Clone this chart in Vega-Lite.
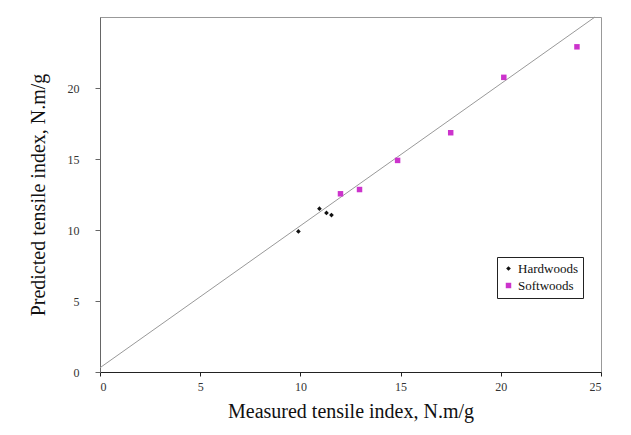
{
  "$schema": "https://vega.github.io/schema/vega-lite/v6.json",
  "autosize": "none",
  "width": 501,
  "height": 355,
  "padding": {"left": 100, "top": 17, "right": 30, "bottom": 63},
  "background": "white",
  "config": {
    "font": "Liberation Serif",
    "view": {"stroke": "#999999", "strokeWidth": 1},
    "axis": {"grid": false, "labelFont": "Liberation Serif", "titleFont": "Liberation Serif", "labelFontSize": 12, "labelColor": "#333333", "titleFontSize": 20, "titleFontWeight": "normal", "titleColor": "#111111", "tickColor": "#666666", "domainColor": "#666666"}
  },
  "datasets": {
    "points": [
      {"measured": 9.9, "predicted": 9.9, "group": "Hardwoods"},
      {"measured": 10.95, "predicted": 11.5, "group": "Hardwoods"},
      {"measured": 11.3, "predicted": 11.2, "group": "Hardwoods"},
      {"measured": 11.55, "predicted": 11.05, "group": "Hardwoods"},
      {"measured": 12.0, "predicted": 12.55, "group": "Softwoods"},
      {"measured": 12.95, "predicted": 12.85, "group": "Softwoods"},
      {"measured": 14.85, "predicted": 14.9, "group": "Softwoods"},
      {"measured": 17.5, "predicted": 16.85, "group": "Softwoods"},
      {"measured": 20.15, "predicted": 20.75, "group": "Softwoods"},
      {"measured": 23.8, "predicted": 22.9, "group": "Softwoods"}
    ],
    "fit": [
      {"measured": 0, "predicted": 0.3},
      {"measured": 24.7, "predicted": 25}
    ]
  },
  "layer": [
    {
      "data": {"name": "fit"},
      "mark": {"type": "line", "color": "#999999", "strokeWidth": 1},
      "encoding": {
        "x": {"field": "measured", "type": "quantitative", "scale": {"domain": [0, 25], "nice": false}},
        "y": {"field": "predicted", "type": "quantitative", "scale": {"domain": [0, 25], "nice": false}}
      }
    },
    {
      "data": {"name": "points"},
      "mark": {"type": "point", "filled": true, "opacity": 1},
      "encoding": {
        "x": {"field": "measured", "type": "quantitative", "scale": {"domain": [0, 25], "nice": false},
          "title": "Measured tensile index, N.m/g",
          "axis": {"values": [0, 5, 10, 15, 20, 25], "tickSize": 4, "labelPadding": 5, "titlePadding": 9, "domainColor": "#222222", "tickColor": "#222222"}},
        "y": {"field": "predicted", "type": "quantitative", "scale": {"domain": [0, 25], "nice": false},
          "title": "Predicted tensile index, N.m/g",
          "axis": {"values": [0, 5, 10, 15, 20], "tickSize": 5, "labelPadding": 16, "titlePadding": 19}},
        "shape": {"field": "group", "type": "nominal", "scale": {"domain": ["Hardwoods", "Softwoods"], "range": ["diamond", "square"]}, "legend": null},
        "color": {"field": "group", "type": "nominal", "scale": {"domain": ["Hardwoods", "Softwoods"], "range": ["#111111", "#cc33cc"]},
          "legend": {"title": null, "orient": "none", "legendX": 397, "legendY": 240, "strokeColor": "#222222", "padding": 5, "labelFont": "Liberation Serif", "labelFontSize": 13, "labelColor": "#111111", "symbolSize": 22, "rowPadding": 3, "labelOffset": 3, "fillColor": "white"}},
        "size": {"field": "group", "type": "nominal", "scale": {"domain": ["Hardwoods", "Softwoods"], "range": [22, 30]}, "legend": null}
      }
    }
  ]
}
